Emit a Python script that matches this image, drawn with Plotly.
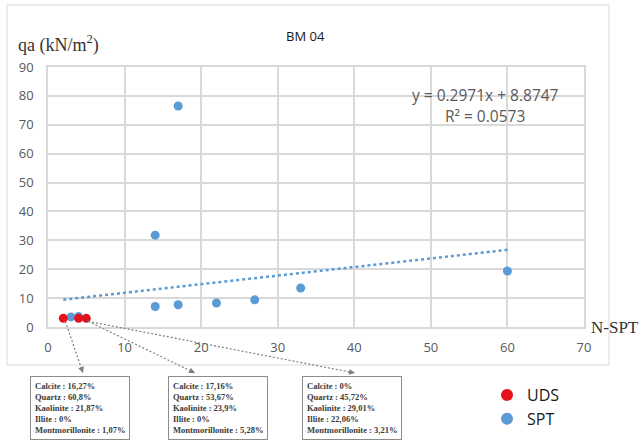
import plotly.graph_objects as go

# ---------------- data ----------------
spt_x = [3, 4, 14, 14, 17, 17, 22, 27, 33, 60]
spt_y = [3.5, 3.6, 31.8, 7.1, 7.7, 76.5, 8.3, 9.4, 13.5, 19.4]
uds_x = [2, 4, 5]
uds_y = [3, 3, 3]
trend_slope = 0.2971
trend_intercept = 8.8747
trend_r2 = 0.0573
trend_x = [2, 60]
x_ticks = [0, 10, 20, 30, 40, 50, 60, 70]
y_ticks = [0, 10, 20, 30, 40, 50, 60, 70, 80, 90]
box_texts = [
    ["Calcite : 16,27%", "Quartz : 60,8%", "Kaolinite : 21,87%", "Illite : 0%", "Montmorillonite : 1,07%"],
    ["Calcite : 17,16%", "Quartz : 53,67%", "Kaolinite : 23,9%", "Illite : 0%", "Montmorillonite : 5,28%"],
    ["Calcite : 0%", "Quartz : 45,72%", "Kaolinite : 29,01%", "Illite : 22,06%", "Montmorillonite : 3,21%"],
]
# which UDS sample each box refers to
box_sample = [0, 2, 2]

# ---------------- layout geometry ----------------
W, H = 642, 440
PL, PR, PT, PB = 48, 584, 67, 327  # plot area in pixels
XR, YR = (0, 70), (0, 90)


def dx(x):
    return PL + (x - XR[0]) / (XR[1] - XR[0]) * (PR - PL)


def dy(y):
    return PB - (y - YR[0]) / (YR[1] - YR[0]) * (PB - PT)


def fx(p):
    return p / W


def fy(p):
    return 1 - p / H


BLUE = "#5b9bd5"
RED = "#e3121b"
GRID = "#d9d9d9"
TICK = "#595959"

fig = go.Figure()

trend_y = [trend_slope * x + trend_intercept for x in trend_x]
fig.add_trace(go.Scatter(x=trend_x, y=trend_y, mode="lines", showlegend=False,
                         line=dict(color=BLUE, width=2.5, dash="3px,3px"), hoverinfo="skip"))
fig.add_trace(go.Scatter(x=spt_x, y=spt_y, mode="markers", name="SPT", legendrank=2,
                         marker=dict(color=BLUE, size=9)))
fig.add_trace(go.Scatter(x=uds_x, y=uds_y, mode="markers", name="UDS", legendrank=1,
                         marker=dict(color=RED, size=9)))

shapes = [
    dict(type="rect", xref="paper", yref="paper", x0=fx(7), x1=fx(609), y0=fy(5), y1=fy(365),
         line=dict(color=GRID, width=1), layer="below"),
]
annotations = []

# mineral boxes and dotted arrows
box_left = [30, 168, 302]
box_top = 376
arrow_tip = [(83, 373), (195, 373), (355, 373)]
for i, lines in enumerate(box_texts):
    txt = "<br>".join("<b>%s</b>" % l for l in lines)
    annotations.append(dict(xref="paper", yref="paper", x=fx(box_left[i]), y=fy(box_top),
                            xanchor="left", yanchor="top", text=txt, showarrow=False, align="left",
                            font=dict(family="Liberation Serif", size=8.5, color="#3a3a3a"),
                            bordercolor="#8c8c8c", borderwidth=1, borderpad=4, bgcolor="white"))
    sx = dx(uds_x[box_sample[i]]) + 2
    sy = dy(uds_y[box_sample[i]]) + 3
    tx, ty = arrow_tip[i]
    shapes.append(dict(type="line", xref="paper", yref="paper", x0=fx(sx), y0=fy(sy), x1=fx(tx), y1=fy(ty),
                       line=dict(color="#7f7f7f", width=1.2, dash="2px,2px")))
    L = ((tx - sx) ** 2 + (ty - sy) ** 2) ** 0.5
    annotations.append(dict(xref="paper", yref="paper", x=fx(tx), y=fy(ty), text="", showarrow=True,
                            ax=-(tx - sx) / L * 5, ay=-(ty - sy) / L * 5, arrowhead=2, arrowsize=1.2,
                            arrowwidth=1, arrowcolor="#7f7f7f"))

# texts
annotations += [
    dict(xref="paper", yref="paper", x=fx(305), y=fy(36), xanchor="center", yanchor="middle",
         text="BM 04", showarrow=False, font=dict(family="Open Sans", size=13, color="#1a1a1a")),
    dict(xref="paper", yref="paper", x=fx(16), y=fy(44), xanchor="left", yanchor="middle",
         text="qa (kN/m<sup>2</sup>)", showarrow=False,
         font=dict(family="Liberation Serif", size=18, color="#333333")),
    dict(xref="paper", yref="paper", x=fx(589), y=fy(327), xanchor="left", yanchor="middle", text="N-SPT",
         showarrow=False, font=dict(family="Liberation Serif", size=17, color="#333333")),
    dict(xref="paper", yref="paper", x=fx(485), y=fy(95), xanchor="center", yanchor="middle",
         text="y = %.4fx + %.4f" % (trend_slope, trend_intercept), showarrow=False,
         font=dict(family="Open Sans", size=15.5, color=TICK)),
    dict(xref="paper", yref="paper", x=fx(485), y=fy(116), xanchor="center", yanchor="middle",
         text="R² = %.4f" % trend_r2, showarrow=False,
         font=dict(family="Open Sans", size=15.5, color=TICK)),
]

fig.update_layout(
    width=W, height=H, margin=dict(l=0, r=0, t=0, b=0, autoexpand=False),
    paper_bgcolor="white", plot_bgcolor="white",
    shapes=shapes, annotations=annotations,
    showlegend=True,
    legend=dict(x=fx(487), y=fy(378), xanchor="left", yanchor="top", bgcolor="rgba(0,0,0,0)",
                font=dict(family="Open Sans", size=16, color="#1a1a1a"), itemsizing="constant"),
    xaxis=dict(domain=[fx(PL), fx(PR)], range=list(XR), tickvals=x_ticks, showgrid=True, gridcolor=GRID,
               gridwidth=1.5, zeroline=False, showline=True, linecolor=GRID, linewidth=1.5, mirror=True,
               ticks="", tickfont=dict(family="Open Sans", size=13, color=TICK), ticklabelstandoff=8),
    yaxis=dict(domain=[1 - PB / H, 1 - PT / H], range=list(YR), tickvals=y_ticks, showgrid=True,
               gridcolor=GRID, gridwidth=1.5, zeroline=False, showline=True, linecolor=GRID, linewidth=1.5,
               mirror=True, ticks="", tickfont=dict(family="Open Sans", size=13, color=TICK),
               ticklabelstandoff=10),
)

fig.write_html("out.html", config={"displayModeBar": False},
               post_script="document.body.style.margin='0';document.body.style.overflow='hidden';")
